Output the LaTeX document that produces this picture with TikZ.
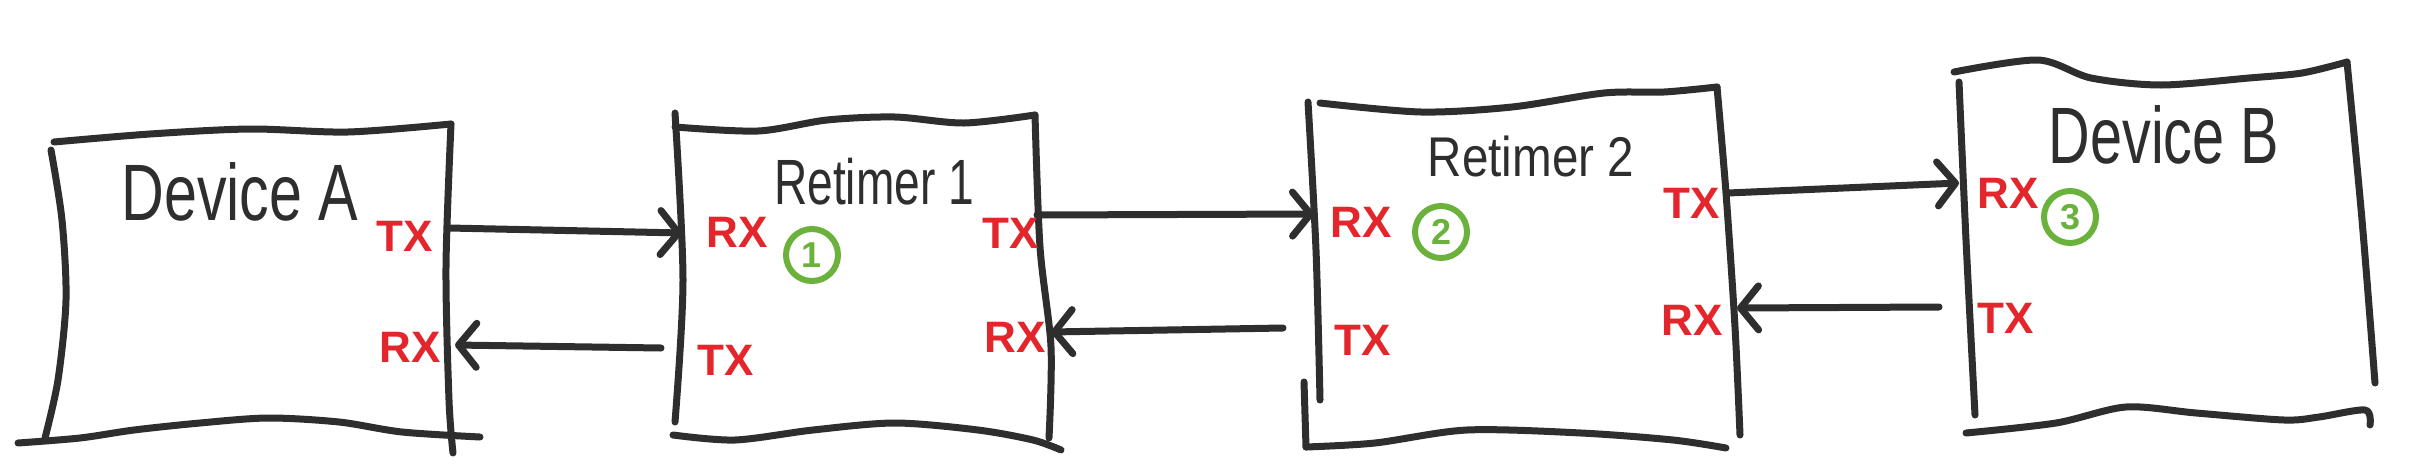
\documentclass[tikz,border=0pt]{standalone}
\usepackage{fontspec}
\setmainfont{Liberation Sans}
\usepackage{graphicx}
\usetikzlibrary{arrows.meta}
\definecolor{ink}{HTML}{2E2E2E}
\definecolor{pred}{HTML}{E3262C}
\definecolor{pgreen}{HTML}{6AB23C}
\tikzset{
  sk/.style={draw=ink, line width=7pt, line cap=round, line join=round},
  arr/.style={sk, -{Straight Barb[length=18pt,width=44pt,round]}},
  port/.style={text=pred, font=\bfseries\fontsize{44}{44}\selectfont, inner sep=0pt},
  title/.style={text=ink, inner sep=0pt},
  num/.style={circle, draw=pgreen, line width=6pt, text=pgreen, minimum size=52pt, inner sep=0pt, font=\bfseries\fontsize{36}{36}\selectfont}
}
\begin{document}
\begin{tikzpicture}[x=1pt,y=-1pt]
\useasboundingbox (0,0) rectangle (2431,472);
% ---------- Device A ----------
\draw[sk] plot[smooth] coordinates {(54,142) (150,134) (250,129) (348,132) (451,124)};
\draw[sk] plot[smooth] coordinates {(451,124) (446,267) (449,400) (453,453)};
\draw[sk] plot[smooth] coordinates {(51,150) (62,220) (66,300) (58,380) (45,438)};
\draw[sk] plot[smooth] coordinates {(18,443) (80,438) (134,430) (200,423) (268,418) (339,422) (402,432) (480,437)};
\node[title, font=\fontsize{80}{80}\selectfont] (tA) at (240,192) {\scalebox{0.74}[1]{Device A}};
\node[port] (aTXl) at (405,236) {TX};
\node[port] (aRXl) at (410,347) {RX};
\coordinate (aTX) at (449,228);
\coordinate (aRX) at (455,345);
% ---------- Retimer 1 ----------
\draw[sk] plot[smooth] coordinates {(675,113) (683,280) (675,422)};
\draw[sk] plot[smooth] coordinates {(675,127) (758,131) (827,120) (895,117) (964,123) (1035,115)};
\draw[sk] plot[smooth] coordinates {(1035,115) (1040,247) (1051,347) (1049,438)};
\draw[sk] plot[smooth] coordinates {(673,435) (735,440) (813,430) (895,423) (978,430) (1033,440) (1061,450)};
\node[title, font=\fontsize{64}{64}\selectfont] (t1) at (874,182) {\scalebox{0.72}[1]{Retimer 1}};
\node[port] (r1RXl) at (737,232) {RX};
\node[port] (r1TXl) at (726,360) {TX};
\node[port] (r1TXr) at (1011,233) {TX};
\node[port] (r1RXr) at (1015,337) {RX};
\node[num] (n1) at (812,255) {1};
\coordinate (r1RX) at (682,233);
\coordinate (r1TXs) at (661,348);
\coordinate (r1TX) at (1037,215);
\coordinate (r1RXe) at (1051,332);
% ---------- Retimer 2 ----------
\draw[sk] plot[smooth] coordinates {(1308,102) (1316,250) (1320,400)};
\draw[sk] (1304,382) -- (1306,447);
\draw[sk] plot[smooth] coordinates {(1320,103) (1421,112) (1512,107) (1604,93) (1664,92) (1717,87)};
\draw[sk] plot[smooth] coordinates {(1717,87) (1726,193) (1735,327) (1740,435)};
\draw[sk] plot[smooth] coordinates {(1306,447) (1375,443) (1467,430) (1581,433) (1673,440) (1726,448)};
\node[title, font=\fontsize{56}{56}\selectfont] (t2) at (1531,156) {\scalebox{0.85}[1]{Retimer 2}};
\node[port] (r2RXl) at (1361,222) {RX};
\node[port] (r2TXl) at (1363,340) {TX};
\node[port] (r2TXr) at (1692,203) {TX};
\node[port] (r2RXr) at (1692,320) {RX};
\node[num] (n2) at (1441,232) {2};
\coordinate (r2RX) at (1314,214);
\coordinate (r2TXs) at (1283,328);
\coordinate (r2TX) at (1728,193);
\coordinate (r2RXe) at (1737,308);
% ---------- Device B ----------
\draw[sk] plot[smooth] coordinates {(1959,82) (1966,240) (1975,415)};
\draw[sk] plot[smooth] coordinates {(1954,72) (2038,60) (2091,78) (2161,85) (2249,78) (2302,73) (2347,62)};
\draw[sk] plot[smooth] coordinates {(2347,62) (2362,220) (2375,383)};
\draw[sk] plot[smooth] coordinates {(1966,433) (2056,423) (2126,407) (2196,413) (2284,420) (2319,417) (2365,410) (2370,425)};
\node[title, font=\fontsize{80}{80}\selectfont] (tB) at (2164,135) {\scalebox{0.72}[1]{Device B}};
\node[port] (bRXl) at (2008,193) {RX};
\node[port] (bTXl) at (2006,318) {TX};
\node[num] (n3) at (2070,217) {3};
\coordinate (bRX) at (1959,183);
\coordinate (bTXs) at (1939,307);
% ---------- connectors ----------
\draw[arr] (aTX) -- (r1RX);
\draw[arr] (r1TXs) -- (aRX);
\draw[arr] (r1TX) -- (r2RX);
\draw[arr] (r2TXs) -- (r1RXe);
\draw[arr] (r2TX) -- (bRX);
\draw[arr] (bTXs) -- (r2RXe);
\end{tikzpicture}
\end{document}
